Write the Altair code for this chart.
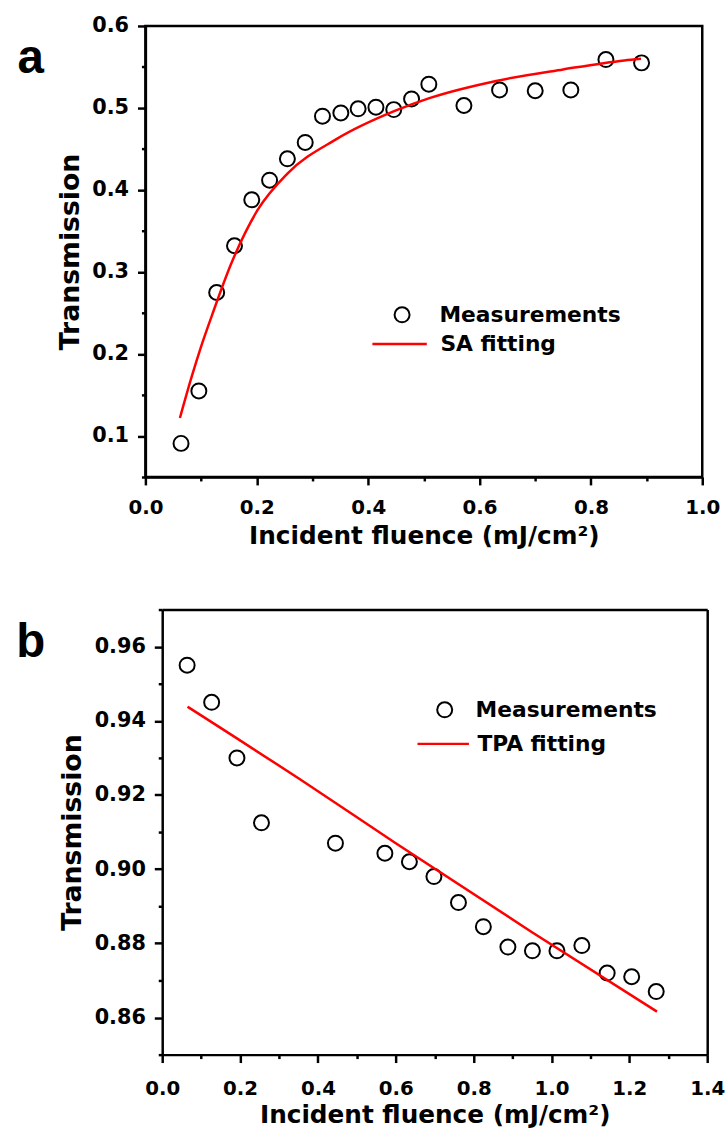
import altair as alt
import pandas as pd

# ---------------- Panel a (saturable absorption) ----------------
a_meas_x = [0.064, 0.096, 0.128, 0.160, 0.191, 0.223, 0.255, 0.287, 0.318, 0.351, 0.382,
            0.414, 0.446, 0.478, 0.509, 0.572, 0.636, 0.700, 0.764, 0.827, 0.891]
a_meas_y = [0.091, 0.155, 0.275, 0.332, 0.388, 0.412, 0.438, 0.458, 0.490, 0.494, 0.499,
            0.501, 0.498, 0.511, 0.529, 0.503, 0.522, 0.521, 0.522, 0.559, 0.555]
a_fit_x = [0.062, 0.083, 0.100, 0.120, 0.154, 0.201, 0.255, 0.343, 0.450, 0.510, 0.630,
           0.750, 0.860, 0.890]
a_fit_y = [0.122, 0.172, 0.209, 0.248, 0.310, 0.375, 0.420, 0.462, 0.497, 0.512, 0.533,
           0.547, 0.558, 0.560]
a_x_major = [0.0, 0.2, 0.4, 0.6, 0.8, 1.0]
a_x_minor = [0.1, 0.3, 0.5, 0.7, 0.9]
a_y_major = [0.1, 0.2, 0.3, 0.4, 0.5, 0.6]
a_y_minor = [0.05, 0.15, 0.25, 0.35, 0.45, 0.55]

# ---------------- Panel b (two-photon absorption) ----------------
b_meas_x = [0.064, 0.127, 0.192, 0.255, 0.445, 0.572, 0.635, 0.698, 0.761, 0.825, 0.888,
            0.951, 1.014, 1.078, 1.143, 1.206, 1.269]
b_meas_y = [0.955, 0.945, 0.930, 0.9125, 0.907, 0.9043, 0.902, 0.898, 0.891, 0.8845, 0.879,
            0.878, 0.878, 0.8794, 0.872, 0.871, 0.867]
b_fit_x = [0.065, 0.350, 0.600, 0.950, 1.271]
b_fit_y = [0.9438, 0.9245, 0.9070, 0.8830, 0.8616]
b_x_major = [0.0, 0.2, 0.4, 0.6, 0.8, 1.0, 1.2, 1.4]
b_x_minor = [0.1, 0.3, 0.5, 0.7, 0.9, 1.1, 1.3]
b_y_major = [0.86, 0.88, 0.90, 0.92, 0.94, 0.96]
b_y_minor = [0.85, 0.87, 0.89, 0.91, 0.93, 0.95, 0.97]

FONT = "DejaVu Sans"
RED = "#ff0000"
X_TITLE = "Incident fluence (mJ/cm²)"
Y_TITLE = "Transmission"


def panel(mx, my, fx, fy, fit_name, xdom, ydom, xmaj, xmin, ymaj, ymin, yfmt,
          w, h, xoff, xpad, letter, letter_pos, leg_pt, leg_ln):
    pts = pd.DataFrame({"x": mx, "y": my, "series": ["Measurements"] * len(mx)})
    fit = pd.DataFrame({"x": fx, "y": fy, "series": [fit_name] * len(fx)})
    if xoff:
        xs = alt.Scale(domain=xdom, nice=False, zero=False, range=[xoff, w])
    else:
        xs = alt.Scale(domain=xdom, nice=False, zero=False)
    ys = alt.Scale(domain=ydom, nice=False, zero=False)

    x_major = alt.Axis(values=xmaj, format=".1f", orient="bottom", title=X_TITLE,
                       tickSize=8, labelPadding=xpad[0], labelFlush=False,
                       labelOverlap=False, labelFontSize=20, titleFontSize=25,
                       titlePadding=xpad[1])
    y_major = alt.Axis(values=ymaj, format=yfmt, orient="left", title=Y_TITLE,
                       tickSize=8, labelPadding=9, labelOverlap=False, offset=-xoff,
                       titleFontSize=27, titlePadding=7.5)
    x_minor = alt.Axis(values=xmin, orient="bottom", labels=False, domain=False,
                       tickSize=4, title=None)
    y_minor = alt.Axis(values=ymin, orient="left", labels=False, domain=False,
                       tickSize=4, title=None, offset=-xoff)

    points = alt.Chart(pts).mark_point(
        shape="circle", filled=False, fill="white", strokeWidth=2, size=230, opacity=1
    ).encode(
        x=alt.X("x:Q", scale=xs, axis=x_major),
        y=alt.Y("y:Q", scale=ys, axis=y_major),
        stroke=alt.Stroke(
            "series:N",
            scale=alt.Scale(domain=["Measurements"], range=["black"]),
            legend=alt.Legend(
                orient="none", legendX=leg_pt[0], legendY=leg_pt[1], title=None,
                labelFont=FONT, labelFontSize=22, labelFontWeight="bold",
                labelColor="black", labelOffset=leg_pt[2], padding=0, labelLimit=400,
                symbolType="circle", symbolFillColor="white",
                symbolStrokeWidth=2, symbolSize=230, symbolOpacity=1,
            ),
        ),
    )

    line = alt.Chart(fit).mark_line(strokeWidth=2.5, interpolate="monotone").encode(
        x=alt.X("x:Q", scale=xs, axis=x_minor),
        y=alt.Y("y:Q", scale=ys, axis=y_minor),
        color=alt.Color(
            "series:N",
            scale=alt.Scale(domain=[fit_name], range=[RED]),
            legend=alt.Legend(
                orient="none", legendX=leg_ln[0], legendY=leg_ln[1], title=None,
                labelFont=FONT, labelFontSize=22, labelFontWeight="bold",
                labelColor="black", labelOffset=leg_ln[2], padding=0, labelLimit=400,
                symbolType="stroke", symbolSize=leg_ln[3], symbolStrokeWidth=2.5,
            ),
        ),
    )

    tag = alt.Chart(pd.DataFrame({"label": [letter]})).mark_text(
        font="Liberation Sans", fontSize=48, fontWeight="bold", align="center",
        baseline="alphabetic", color="black"
    ).encode(text="label:N", x=alt.value(letter_pos[0]), y=alt.value(letter_pos[1]))

    layers = [points, line, tag]
    props = dict(width=w, height=h)
    if xoff:
        # frame drawn by axis domains so that it starts at the shifted left edge
        frame = alt.Chart(pts).mark_point(opacity=0).encode(
            x=alt.X("x:Q", scale=xs, axis=alt.Axis(orient="top", labels=False,
                                                   ticks=False, title=None)),
            y=alt.Y("y:Q", scale=ys, axis=alt.Axis(orient="right", labels=False,
                                                   ticks=False, title=None)),
        )
        layers.append(frame)
        props["view"] = alt.ViewBackground(stroke="transparent")

    return alt.layer(*layers).resolve_axis(
        x="independent", y="independent"
    ).properties(**props)


pa = panel(a_meas_x, a_meas_y, a_fit_x, a_fit_y, "SA fitting", [0.0, 1.0], [0.05, 0.6],
           a_x_major, a_x_minor, a_y_major, a_y_minor, ".1f", 563, 456, 0, (13, 6),
           "a", (-116, 47.7), (248.5, 281, 26.8), (228, 292.5, 12.3, 3025))

pb = panel(b_meas_x, b_meas_y, b_fit_x, b_fit_y, "TPA fitting", [0.0, 1.4], [0.85, 0.97],
           b_x_major, b_x_minor, b_y_major, b_y_minor, ".2f", 568, 450, 17, (16, 5),
           "b", (-116, 48), (291.6, 90.4, 20.2), (273.6, 108.3, 7.1, 2704))

chart = alt.concat(pa, pb, columns=1, spacing=57).resolve_scale(
    x="independent", y="independent", color="independent", stroke="independent"
).properties(
    padding={"left": 15, "top": 7, "right": 0, "bottom": 0},
    background="white",
).configure_view(
    stroke="black", strokeWidth=2.5
).configure_axis(
    grid=False, domainColor="black", domainWidth=2.5, tickColor="black", tickWidth=2.5,
    labelFont=FONT, labelFontWeight="bold", labelFontSize=21, labelColor="black",
    titleFont=FONT, titleFontWeight="bold", titleColor="black"
)

chart.save("out.html", embed_options={"renderer": "svg", "actions": False})
